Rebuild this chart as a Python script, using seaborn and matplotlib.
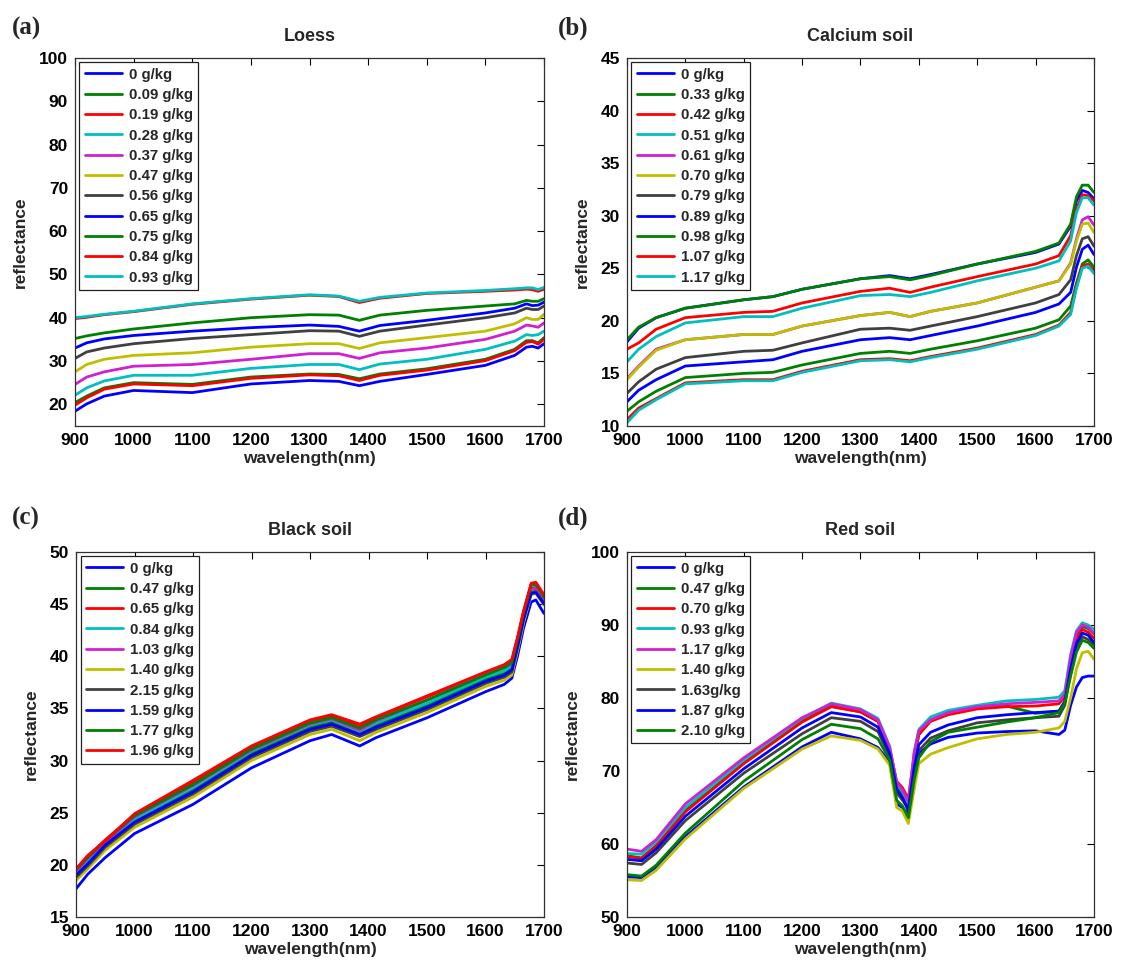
import numpy as np
import pandas as pd
import seaborn as sns
import matplotlib.pyplot as plt

# wavelength grids (nm) used for each panel
wl_loess = [900, 920, 950, 1000, 1100, 1200, 1300, 1350, 1385, 1420, 1500, 1600, 1650, 1670, 1680, 1690, 1700]
wl_calcium = [900, 920, 950, 1000, 1100, 1150, 1200, 1300, 1350, 1385, 1420, 1500, 1600, 1640, 1660, 1670, 1680, 1690, 1700]
wl_black = [900, 920, 950, 1000, 1100, 1200, 1300, 1337, 1385, 1413, 1500, 1600, 1632, 1645, 1655, 1665, 1678, 1686, 1700]
wl_red = [900, 925, 950, 1000, 1100, 1200, 1250, 1300, 1330, 1350, 1362, 1372, 1382, 1392, 1400, 1420, 1450, 1500, 1550, 1600, 1640, 1650, 1660, 1670, 1680, 1690, 1700]

# (a) Loess
loess_labels = ['0 g/kg', '0.09 g/kg', '0.19 g/kg', '0.28 g/kg', '0.37 g/kg', '0.47 g/kg',
                '0.56 g/kg', '0.65 g/kg', '0.75 g/kg', '0.84 g/kg', '0.93 g/kg']
loess_000 = [18.4, 20.1, 21.9, 23.2, 22.7, 24.7, 25.5, 25.3, 24.3, 25.3, 26.9, 29.0, 31.3, 33.2, 33.4, 33.0, 34.0]
loess_009 = [20.4, 21.9, 23.8, 25.0, 24.6, 26.3, 27.0, 26.9, 25.9, 27.0, 28.2, 30.4, 32.7, 34.7, 34.7, 34.2, 35.4]
loess_019 = [19.8, 21.5, 23.5, 24.7, 24.3, 26.0, 26.8, 26.6, 25.5, 26.7, 27.9, 30.1, 32.4, 34.3, 34.5, 33.9, 35.0]
loess_028 = [22.1, 23.8, 25.4, 26.7, 26.7, 28.3, 29.2, 29.2, 28.0, 29.3, 30.4, 32.7, 34.6, 36.1, 35.9, 36.1, 36.9]
loess_037 = [24.6, 26.3, 27.5, 28.8, 29.2, 30.4, 31.7, 31.7, 30.6, 31.9, 33.0, 35.0, 36.9, 38.3, 38.1, 37.8, 38.8]
loess_047 = [27.5, 29.2, 30.4, 31.3, 31.9, 33.2, 34.0, 34.0, 32.9, 34.2, 35.4, 36.9, 38.6, 40.0, 39.6, 39.6, 40.8]
loess_056 = [30.6, 32.1, 33.0, 34.0, 35.2, 36.1, 37.0, 36.9, 35.7, 36.9, 38.3, 40.0, 41.1, 42.2, 41.9, 41.9, 42.7]
loess_065 = [33.0, 34.2, 35.1, 35.9, 36.9, 37.7, 38.3, 38.0, 36.9, 38.2, 39.4, 41.1, 42.2, 43.2, 42.8, 42.9, 43.6]
loess_075 = [35.2, 35.8, 36.5, 37.4, 38.8, 40.0, 40.7, 40.6, 39.4, 40.6, 41.7, 42.7, 43.2, 44.0, 43.8, 43.8, 44.4]
loess_084 = [39.8, 40.1, 40.7, 41.4, 43.1, 44.3, 45.2, 44.9, 43.5, 44.5, 45.6, 46.1, 46.4, 46.6, 46.5, 46.1, 46.6]
loess_093 = [40.0, 40.3, 40.8, 41.5, 43.2, 44.4, 45.3, 45.0, 43.8, 44.7, 45.7, 46.3, 46.7, 46.9, 46.9, 46.5, 47.0]

# (b) Calcium soil
calcium_labels = ['0 g/kg', '0.33 g/kg', '0.42 g/kg', '0.51 g/kg', '0.61 g/kg', '0.70 g/kg',
                  '0.79 g/kg', '0.89 g/kg', '0.98 g/kg', '1.07 g/kg', '1.17 g/kg']
calcium_000 = [18.0, 19.3, 20.3, 21.2, 22.0, 22.3, 23.0, 24.0, 24.3, 24.0, 24.4, 25.4, 26.5, 27.3, 29.0, 31.4, 32.4, 32.2, 31.6]
calcium_033 = [18.2, 19.4, 20.3, 21.2, 22.0, 22.3, 23.0, 24.0, 24.2, 23.9, 24.3, 25.4, 26.6, 27.4, 29.2, 31.8, 32.9, 32.9, 32.2]
calcium_042 = [17.3, 17.9, 19.2, 20.3, 20.8, 20.9, 21.7, 22.8, 23.1, 22.7, 23.2, 24.2, 25.4, 26.2, 28.1, 30.6, 32.0, 31.9, 31.4]
calcium_051 = [16.1, 17.3, 18.5, 19.8, 20.4, 20.4, 21.2, 22.4, 22.5, 22.3, 22.7, 23.8, 25.0, 25.7, 27.6, 30.3, 31.7, 31.7, 31.0]
calcium_061 = [14.5, 15.7, 17.3, 18.2, 18.7, 18.7, 19.5, 20.5, 20.8, 20.4, 20.9, 21.7, 23.2, 23.8, 25.5, 27.8, 29.6, 29.9, 29.1]
calcium_070 = [14.4, 15.6, 17.2, 18.2, 18.7, 18.7, 19.5, 20.5, 20.8, 20.4, 20.9, 21.7, 23.2, 23.8, 25.4, 27.6, 29.2, 29.3, 28.4]
calcium_079 = [13.1, 14.2, 15.4, 16.5, 17.1, 17.2, 17.9, 19.2, 19.3, 19.1, 19.5, 20.4, 21.7, 22.5, 23.9, 26.2, 27.8, 28.0, 27.1]
calcium_089 = [12.3, 13.4, 14.4, 15.7, 16.1, 16.3, 17.1, 18.2, 18.4, 18.2, 18.6, 19.5, 20.8, 21.6, 22.7, 25.1, 26.8, 27.2, 26.3]
calcium_098 = [11.4, 12.3, 13.3, 14.6, 15.0, 15.1, 15.8, 16.9, 17.1, 16.9, 17.3, 18.1, 19.3, 20.1, 21.4, 23.6, 25.4, 25.8, 25.1]
calcium_107 = [10.6, 11.7, 12.6, 14.1, 14.4, 14.4, 15.2, 16.3, 16.4, 16.2, 16.6, 17.4, 18.7, 19.6, 20.8, 23.3, 25.2, 25.4, 24.7]
calcium_117 = [10.3, 11.5, 12.5, 14.0, 14.3, 14.3, 15.1, 16.2, 16.3, 16.1, 16.5, 17.3, 18.6, 19.5, 20.6, 23.1, 25.0, 25.2, 24.5]

# (c) Black soil
black_labels = ['0 g/kg', '0.47 g/kg', '0.65 g/kg', '0.84 g/kg', '1.03 g/kg', '1.40 g/kg',
                '2.15 g/kg', '1.59 g/kg', '1.77 g/kg', '1.96 g/kg']
black_000 = [17.7, 19.1, 20.7, 23.0, 25.8, 29.3, 31.9, 32.5, 31.4, 32.2, 34.1, 36.6, 37.3, 37.9, 40.1, 42.7, 45.2, 45.4, 44.1]
black_047 = [19.2, 20.3, 22.0, 24.3, 27.2, 30.7, 33.2, 33.7, 32.6, 33.4, 35.3, 37.8, 38.4, 38.9, 41.2, 43.8, 46.5, 46.6, 45.4]
black_065 = [19.6, 20.8, 22.4, 24.8, 27.9, 31.3, 33.8, 34.3, 33.3, 34.1, 36.1, 38.4, 39.1, 39.6, 41.8, 44.3, 46.9, 47.0, 45.8]
black_084 = [19.3, 20.4, 22.1, 24.4, 27.4, 30.9, 33.4, 33.9, 32.8, 33.6, 35.5, 38.0, 38.6, 39.1, 41.3, 43.9, 46.2, 46.4, 45.3]
black_103 = [19.4, 20.6, 22.2, 24.6, 27.6, 31.0, 33.5, 34.0, 32.9, 33.8, 35.8, 38.3, 38.9, 39.3, 41.5, 44.0, 46.4, 46.5, 45.4]
black_140 = [18.5, 19.6, 21.4, 23.6, 26.5, 30.0, 32.5, 33.0, 31.9, 32.7, 34.6, 37.1, 37.7, 38.2, 40.6, 43.2, 45.9, 46.0, 44.9]
black_215 = [18.8, 19.9, 21.7, 23.9, 26.8, 30.3, 32.8, 33.3, 32.3, 33.0, 34.9, 37.4, 38.0, 38.5, 40.9, 43.5, 46.1, 46.2, 45.1]
black_159 = [19.0, 20.1, 21.9, 24.1, 27.0, 30.5, 33.0, 33.5, 32.5, 33.2, 35.1, 37.6, 38.2, 38.7, 41.0, 43.6, 46.0, 46.1, 45.0]
black_177 = [19.5, 20.7, 22.3, 24.7, 27.7, 31.1, 33.6, 34.1, 33.1, 33.9, 35.8, 38.2, 38.9, 39.4, 41.7, 44.2, 46.8, 46.9, 45.7]
black_196 = [19.6, 20.9, 22.3, 24.9, 28.1, 31.4, 33.9, 34.4, 33.5, 34.2, 36.2, 38.5, 39.2, 39.7, 41.9, 44.3, 47.0, 47.1, 45.9]

# (d) Red soil
red_labels = ['0 g/kg', '0.47 g/kg', '0.70 g/kg', '0.93 g/kg', '1.17 g/kg', '1.40 g/kg',
              '1.63g/kg', '1.87 g/kg', '2.10 g/kg']
red_000 = [55.5, 55.4, 56.8, 61.0, 67.8, 73.3, 75.3, 74.4, 73.2, 71.2, 65.5, 65.0, 64.1, 69.5, 72.4, 73.7, 74.6, 75.2, 75.4, 75.5, 75.0, 75.6, 79.0, 81.5, 82.8, 83.0, 83.0]
red_047 = [58.4, 58.1, 59.8, 64.6, 71.1, 76.9, 78.9, 78.1, 76.8, 72.9, 67.8, 66.8, 65.4, 71.8, 75.0, 76.9, 77.9, 78.8, 78.9, 77.9, 78.2, 79.5, 85.3, 88.8, 89.8, 89.5, 88.8]
red_070 = [58.3, 58.0, 59.7, 64.4, 71.0, 76.7, 78.8, 78.1, 76.8, 73.0, 68.6, 67.7, 66.2, 72.0, 75.0, 76.8, 77.7, 78.5, 78.8, 78.9, 79.2, 80.2, 84.8, 88.2, 89.4, 89.0, 88.2]
red_093 = [58.7, 58.6, 60.3, 65.0, 71.5, 77.2, 79.3, 78.5, 77.2, 73.4, 68.3, 67.2, 65.6, 72.6, 75.7, 77.4, 78.3, 79.0, 79.6, 79.8, 80.1, 81.0, 86.0, 89.2, 90.3, 90.0, 89.4]
red_117 = [59.3, 59.0, 60.6, 65.5, 71.8, 77.3, 79.2, 78.4, 77.0, 73.2, 68.4, 67.4, 65.8, 72.5, 75.5, 77.0, 78.0, 78.8, 79.2, 79.4, 79.6, 80.5, 85.5, 89.0, 90.0, 89.7, 88.8]
red_140 = [55.1, 55.0, 56.4, 60.7, 67.6, 73.0, 74.8, 74.2, 73.0, 70.8, 65.0, 64.5, 62.8, 67.5, 71.0, 72.3, 73.2, 74.4, 75.0, 75.3, 75.9, 76.8, 80.0, 84.0, 86.2, 86.4, 85.3]
red_163 = [57.4, 57.2, 58.8, 63.2, 69.7, 75.1, 77.3, 76.8, 75.4, 72.0, 67.0, 66.0, 64.8, 70.0, 72.8, 74.5, 75.5, 76.6, 77.0, 77.3, 77.5, 79.0, 83.5, 87.0, 88.4, 88.0, 87.3]
red_187 = [57.9, 57.7, 59.3, 63.8, 70.3, 75.9, 78.0, 77.4, 76.0, 72.4, 67.5, 66.3, 64.6, 70.5, 73.6, 75.3, 76.3, 77.3, 77.7, 78.0, 78.2, 79.5, 84.0, 87.5, 88.9, 88.6, 87.6]
red_210 = [55.8, 55.6, 57.1, 61.5, 68.6, 74.3, 76.4, 75.8, 74.4, 71.5, 66.0, 65.2, 63.6, 68.8, 71.8, 74.0, 75.3, 76.0, 76.7, 77.3, 78.0, 79.3, 83.0, 86.3, 87.9, 87.6, 86.8]

# matlab style color order
matlab_colors = ['#0000ff', '#008000', '#ff0000', '#00bfbf', '#d020d0', '#bfbf00', '#404040']

sns.set_style('white')
plt.rcParams['font.family'] = ['Liberation Sans', 'DejaVu Sans']
plt.rcParams['font.weight'] = 'bold'
plt.rcParams['axes.labelweight'] = 'bold'
plt.rcParams['axes.titleweight'] = 'bold'


def to_long(wl, labels, series):
    rows = []
    for lab, vals in zip(labels, series):
        for w, v in zip(wl, vals):
            rows.append((w, v, lab))
    return pd.DataFrame(rows, columns=['wavelength', 'reflectance', 'content'])


panels = [
    ('Loess', '(a)', wl_loess, loess_labels,
     [loess_000, loess_009, loess_019, loess_028, loess_037, loess_047,
      loess_056, loess_065, loess_075, loess_084, loess_093],
     (15, 100), np.arange(20, 101, 10), [0.0669, 0.5595, 0.4184, 0.3806]),
    ('Calcium soil', '(b)', wl_calcium, calcium_labels,
     [calcium_000, calcium_033, calcium_042, calcium_051, calcium_061, calcium_070,
      calcium_079, calcium_089, calcium_098, calcium_107, calcium_117],
     (10, 45), np.arange(10, 46, 5), [0.5593, 0.5595, 0.4166, 0.3806]),
    ('Black soil', '(c)', wl_black, black_labels,
     [black_000, black_047, black_065, black_084, black_103, black_140,
      black_215, black_159, black_177, black_196],
     (15, 50), np.arange(15, 51, 5), [0.0678, 0.0517, 0.4175, 0.3775]),
    ('Red soil', '(d)', wl_red, red_labels,
     [red_000, red_047, red_070, red_093, red_117, red_140, red_163, red_187, red_210],
     (50, 100), np.arange(50, 101, 10), [0.5593, 0.0517, 0.4166, 0.3775]),
]

fig = plt.figure(figsize=(11.21, 9.67), dpi=100)

for title, tag, wl, labels, series, ylim, yticks, rect in panels:
    ax = fig.add_axes(rect)
    df = to_long(wl, labels, series)
    pal = [matlab_colors[i % 7] for i in range(len(labels))]
    sns.lineplot(data=df, x='wavelength', y='reflectance', hue='content',
                 hue_order=labels, palette=pal, linewidth=2.0, ax=ax)
    ax.set_xlim(900, 1700)
    ax.set_ylim(*ylim)
    ax.set_xticks(np.arange(900, 1701, 100))
    ax.set_yticks(yticks)
    ax.tick_params(direction='in', top=True, right=True, length=5, width=0.8,
                   labelsize=12.5, pad=5, colors='black')
    for s in ax.spines.values():
        s.set_color('#303030')
        s.set_linewidth(0.9)
    ax.set_xlabel('wavelength(nm)', fontsize=12.5, labelpad=2)
    ax.set_ylabel('reflectance', fontsize=12.5, labelpad=8)
    ax.set_title(title, fontsize=13, pad=12)
    handles, labs = ax.get_legend_handles_labels()
    leg = ax.legend(handles, labs, loc='upper left', fontsize=10.8, frameon=True,
                    fancybox=False, edgecolor='#202020', framealpha=1,
                    handlelength=2.5, handletextpad=0.45, labelspacing=0.42,
                    borderpad=0.35, borderaxespad=0.3)
    leg.get_frame().set_linewidth(0.9)
    for h in leg.get_lines():
        h.set_linewidth(2.0)
    x0 = 0.011 if rect[0] < 0.3 else 0.498
    y0 = 1 - 28 / 967 if rect[1] > 0.3 else 1 - 518 / 967
    fig.text(x0, y0, tag, fontsize=18, fontweight='bold',
             family=['Liberation Serif', 'DejaVu Serif'], va='center', ha='left')

fig.savefig('out.png', dpi=100)
